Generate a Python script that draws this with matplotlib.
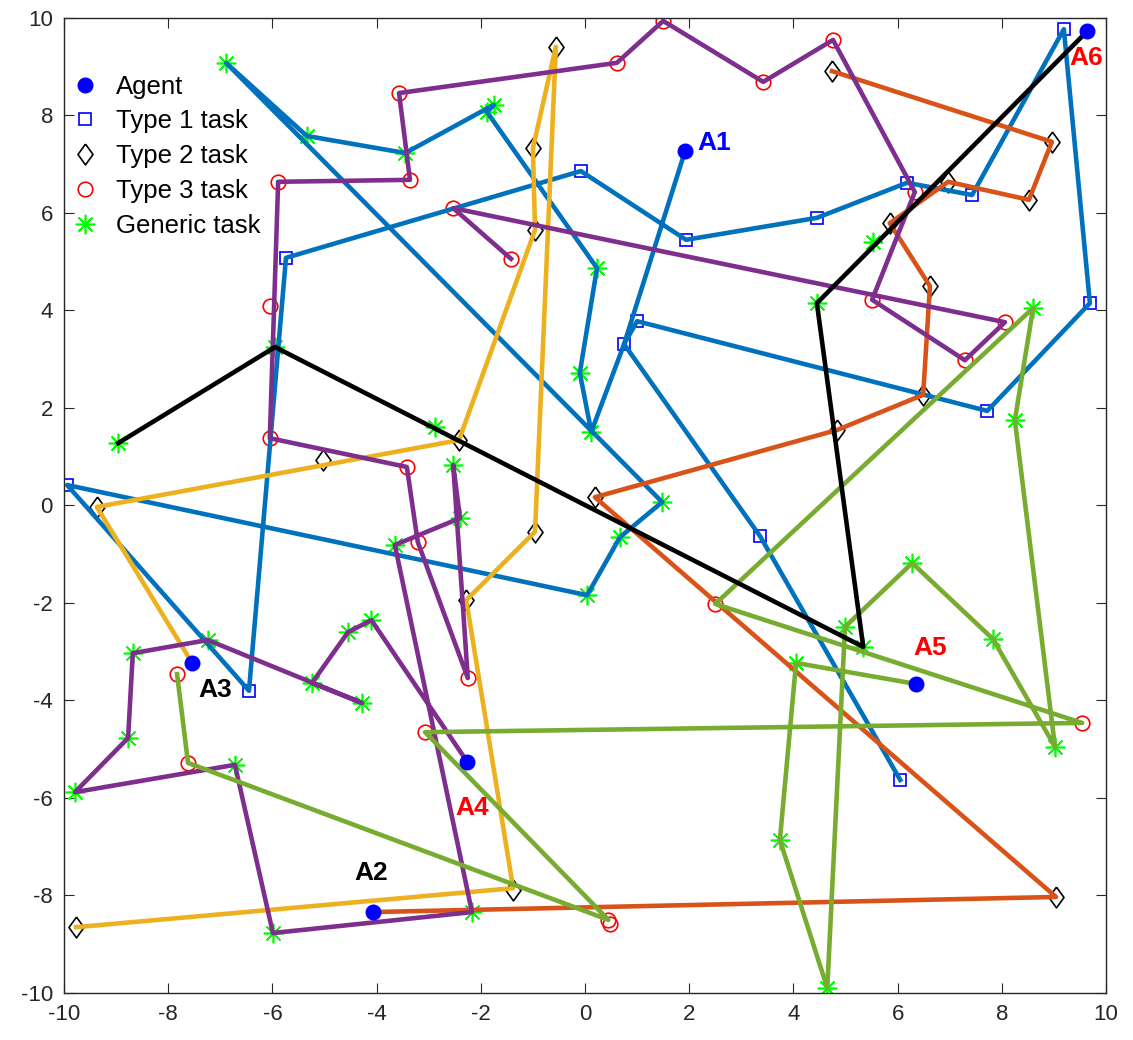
import matplotlib
matplotlib.use("Agg")
import matplotlib.pyplot as plt
from matplotlib.lines import Line2D

plt.rcParams['font.family'] = ['Liberation Sans', 'DejaVu Sans']
plt.rcParams['axes.unicode_minus'] = False

# agents
agent_x = [1.92, -4.07, -7.54, -2.26, 6.35, 9.64]
agent_y = [7.27, -8.34, -3.23, -5.26, -3.66, 9.73]
agent_names = ['A1', 'A2', 'A3', 'A4', 'A5', 'A6']
name_colors = ['#0000ff', 'black', 'black', 'red', 'red', 'red']

# tasks
type1_x = [0.75, 1.0, 7.72, 9.69, 9.19, 7.43, 6.18, 4.45, 1.94, -0.08, -5.74, -6.45, -9.94, 3.36, 6.05]
type1_y = [3.31, 3.78, 1.94, 4.15, 9.77, 6.37, 6.62, 5.9, 5.45, 6.86, 5.08, -3.8, 0.42, -0.63, -5.63]

type2_x = [4.74, 8.96, 8.52, 6.97, 5.85, 6.62, 6.49, 4.84, 0.19, 9.04, -0.56, -1.0, -0.96, -2.42,
           -5.03, -9.37, -0.96, -2.28, -1.38, -9.77]
type2_y = [8.91, 7.46, 6.27, 6.64, 5.79, 4.5, 2.27, 1.55, 0.17, -8.03, 9.41, 7.33, 5.65, 1.34,
           0.93, -0.03, -0.54, -1.94, -7.89, -8.65]

type3_x = [0.61, 1.5, 3.42, 4.76, 6.33, 5.51, 7.29, 8.06, -2.53, -1.42, -3.57, -3.36, -5.89, -6.05,
           -6.05, -3.42, -3.21, -2.25, 2.5, 9.54, -3.07, 0.45, 0.47, -7.62, -7.83]
type3_y = [9.08, 9.94, 8.69, 9.55, 6.43, 4.22, 2.98, 3.76, 6.1, 5.06, 8.46, 6.68, 6.64, 4.1,
           1.38, 0.79, -0.75, -3.54, -2.02, -4.46, -4.65, -8.5, -8.58, -5.28, -3.46]

generic_x = [-6.89, -5.34, -3.45, -1.75, -1.88, 0.23, -0.1, 0.12, 1.48, 0.67, 0.04, -5.95, -8.96,
             -2.88, 4.45, 5.53, 5.34, 4.99, 6.28, 7.83, 9.02, 8.25, 8.6, 4.05, 3.74, 4.65,
             -3.65, -2.4, -2.53, -4.1, -4.55, -5.24, -4.28, -7.24, -8.68, -8.77, -9.79, -6.72,
             -5.99, -2.17]
generic_y = [9.08, 7.58, 7.23, 8.22, 8.07, 4.87, 2.72, 1.51, 0.07, -0.65, -1.84, 3.25, 1.28,
             1.61, 4.15, 5.41, -2.9, -2.49, -1.18, -2.74, -4.95, 1.75, 4.05, -3.23, -6.86, -9.9,
             -0.81, -0.26, 0.83, -2.35, -2.6, -3.64, -4.05, -2.76, -3.03, -4.77, -5.88, -5.32,
             -8.77, -8.34]

# routes, one per agent
route1_x = [1.92, 0.75, 1.0, 7.72, 9.69, 9.19, 7.43, 6.18, 4.45, 1.94, -0.08, -5.74, -6.45, -9.94,
            0.04, 0.67, 1.48, -6.89, -5.34, -3.45, -1.75, -1.88, 0.23, -0.1, 0.12, 0.75, 3.36, 6.05]
route1_y = [7.27, 3.31, 3.78, 1.94, 4.15, 9.77, 6.37, 6.62, 5.9, 5.45, 6.86, 5.08, -3.8, 0.42,
            -1.84, -0.65, 0.07, 9.08, 7.58, 7.23, 8.22, 8.07, 4.87, 2.72, 1.51, 3.31, -0.63, -5.63]

route2_x = [-4.07, 9.04, 0.19, 4.84, 6.49, 6.62, 5.85, 6.97, 8.52, 8.96, 4.74]
route2_y = [-8.34, -8.03, 0.17, 1.55, 2.27, 4.5, 5.79, 6.64, 6.27, 7.46, 8.91]

route3_x = [-7.54, -9.37, -2.42, -0.96, -1.0, -0.56, -0.96, -2.28, -1.38, -9.77]
route3_y = [-3.23, -0.03, 1.34, 5.65, 7.33, 9.41, -0.54, -1.94, -7.85, -8.65]

route4_x = [-2.26, -4.1, -4.55, -5.24, -4.28, -7.24, -8.68, -8.77, -9.79, -6.72, -5.99, -2.17,
            -3.65, -2.4, -2.53, -2.25, -3.21, -3.42, -6.05, -5.89, -3.36, -3.57, 0.61, 1.5, 3.42,
            4.76, 6.33, 5.51, 7.29, 8.06, -2.53, -1.42]
route4_y = [-5.26, -2.35, -2.6, -3.64, -4.05, -2.76, -3.03, -4.77, -5.88, -5.32, -8.77, -8.34,
            -0.81, -0.26, 0.83, -3.54, -0.75, 0.79, 1.38, 6.64, 6.68, 8.46, 9.08, 9.94, 8.69,
            9.55, 6.43, 4.22, 2.98, 3.76, 6.1, 5.06]

route5_x = [6.35, 4.05, 3.74, 4.65, 4.99, 6.28, 7.83, 9.02, 8.25, 8.6, 2.5, 9.54, -3.07, 0.45, -7.62, -7.83]
route5_y = [-3.66, -3.23, -6.86, -9.9, -2.49, -1.18, -2.74, -4.95, 1.75, 4.05, -2.02, -4.46, -4.65, -8.5, -5.28, -3.46]

route6_x = [9.64, 4.45, 5.34, -5.95, -8.96]
route6_y = [9.73, 4.15, -2.9, 3.25, 1.28]

routes = [(route1_x, route1_y), (route2_x, route2_y), (route3_x, route3_y),
          (route4_x, route4_y), (route5_x, route5_y), (route6_x, route6_y)]
route_colors = ['#0072BD', '#D95319', '#EDB120', '#7E2F8E', '#77AC30', 'black']

fig = plt.figure(figsize=(11.33, 10.4), dpi=100)
ax = fig.add_axes([0.0565, 0.0452, 0.9197, 0.9375])

diamond = [(0, 1), (0.72, 0), (0, -1), (-0.72, 0), (0, 1)]
asterisk = (8, 2, 0)

# task markers (under the routes)
sq_style = dict(ls='none', marker='s', ms=8.5, mfc='none', mec='#0000ff', mew=1.2)
dm_style = dict(ls='none', marker=diamond, ms=15, mfc='none', mec='black', mew=1.2)
ci_style = dict(ls='none', marker='o', ms=10.5, mfc='none', mec='red', mew=1.2)
st_style = dict(ls='none', marker=asterisk, ms=14, mec='#00ff00', mew=1.2)
ag_style = dict(ls='none', marker='o', ms=10.5, mfc='#0000ff', mec='#0000ff')

ax.plot(type1_x, type1_y, zorder=2, **sq_style)
ax.plot(type2_x, type2_y, zorder=2, **dm_style)
ax.plot(type3_x, type3_y, zorder=2, **ci_style)
ax.plot(generic_x, generic_y, zorder=2, **st_style)

for (rx, ry), c in zip(routes, route_colors):
    ax.plot(rx, ry, color=c, lw=3.3, solid_joinstyle='round', zorder=3)

ax.plot(agent_x, agent_y, zorder=4, **ag_style)

# agent labels
label_xy = [(2.15, 7.44, 'left'), (-4.11, -7.54, 'center'), (-7.1, -3.78, 'center'),
            (-2.17, -6.21, 'center'), (6.62, -2.92, 'center'), (9.62, 9.18, 'center')]
for (lx, ly, ha), name, c in zip(label_xy, agent_names, name_colors):
    ax.text(lx, ly, name, color=c, fontsize=19, fontweight='bold', ha=ha, va='center', zorder=5)

ax.set_xlim(-10, 10)
ax.set_ylim(-10, 10)
ax.set_xticks(range(-10, 11, 2))
ax.set_yticks(range(-10, 11, 2))
ax.tick_params(direction='in', length=7, width=0.8, top=True, right=True,
               labelsize=16, colors='#262626', pad=8)
for s in ax.spines.values():
    s.set_color('#262626')
    s.set_linewidth(1.0)

handles = [Line2D([], [], **ag_style), Line2D([], [], **sq_style), Line2D([], [], **dm_style),
           Line2D([], [], **ci_style), Line2D([], [], **st_style)]
ax.legend(handles, ['Agent', 'Type 1 task', 'Type 2 task', 'Type 3 task', 'Generic task'],
          loc='upper left', bbox_to_anchor=(0.008, 0.942), frameon=False, fontsize=18.5,
          handlelength=1.0, handletextpad=0.7, labelspacing=0.42, borderpad=0, borderaxespad=0)

fig.savefig('out.png', dpi=100)
